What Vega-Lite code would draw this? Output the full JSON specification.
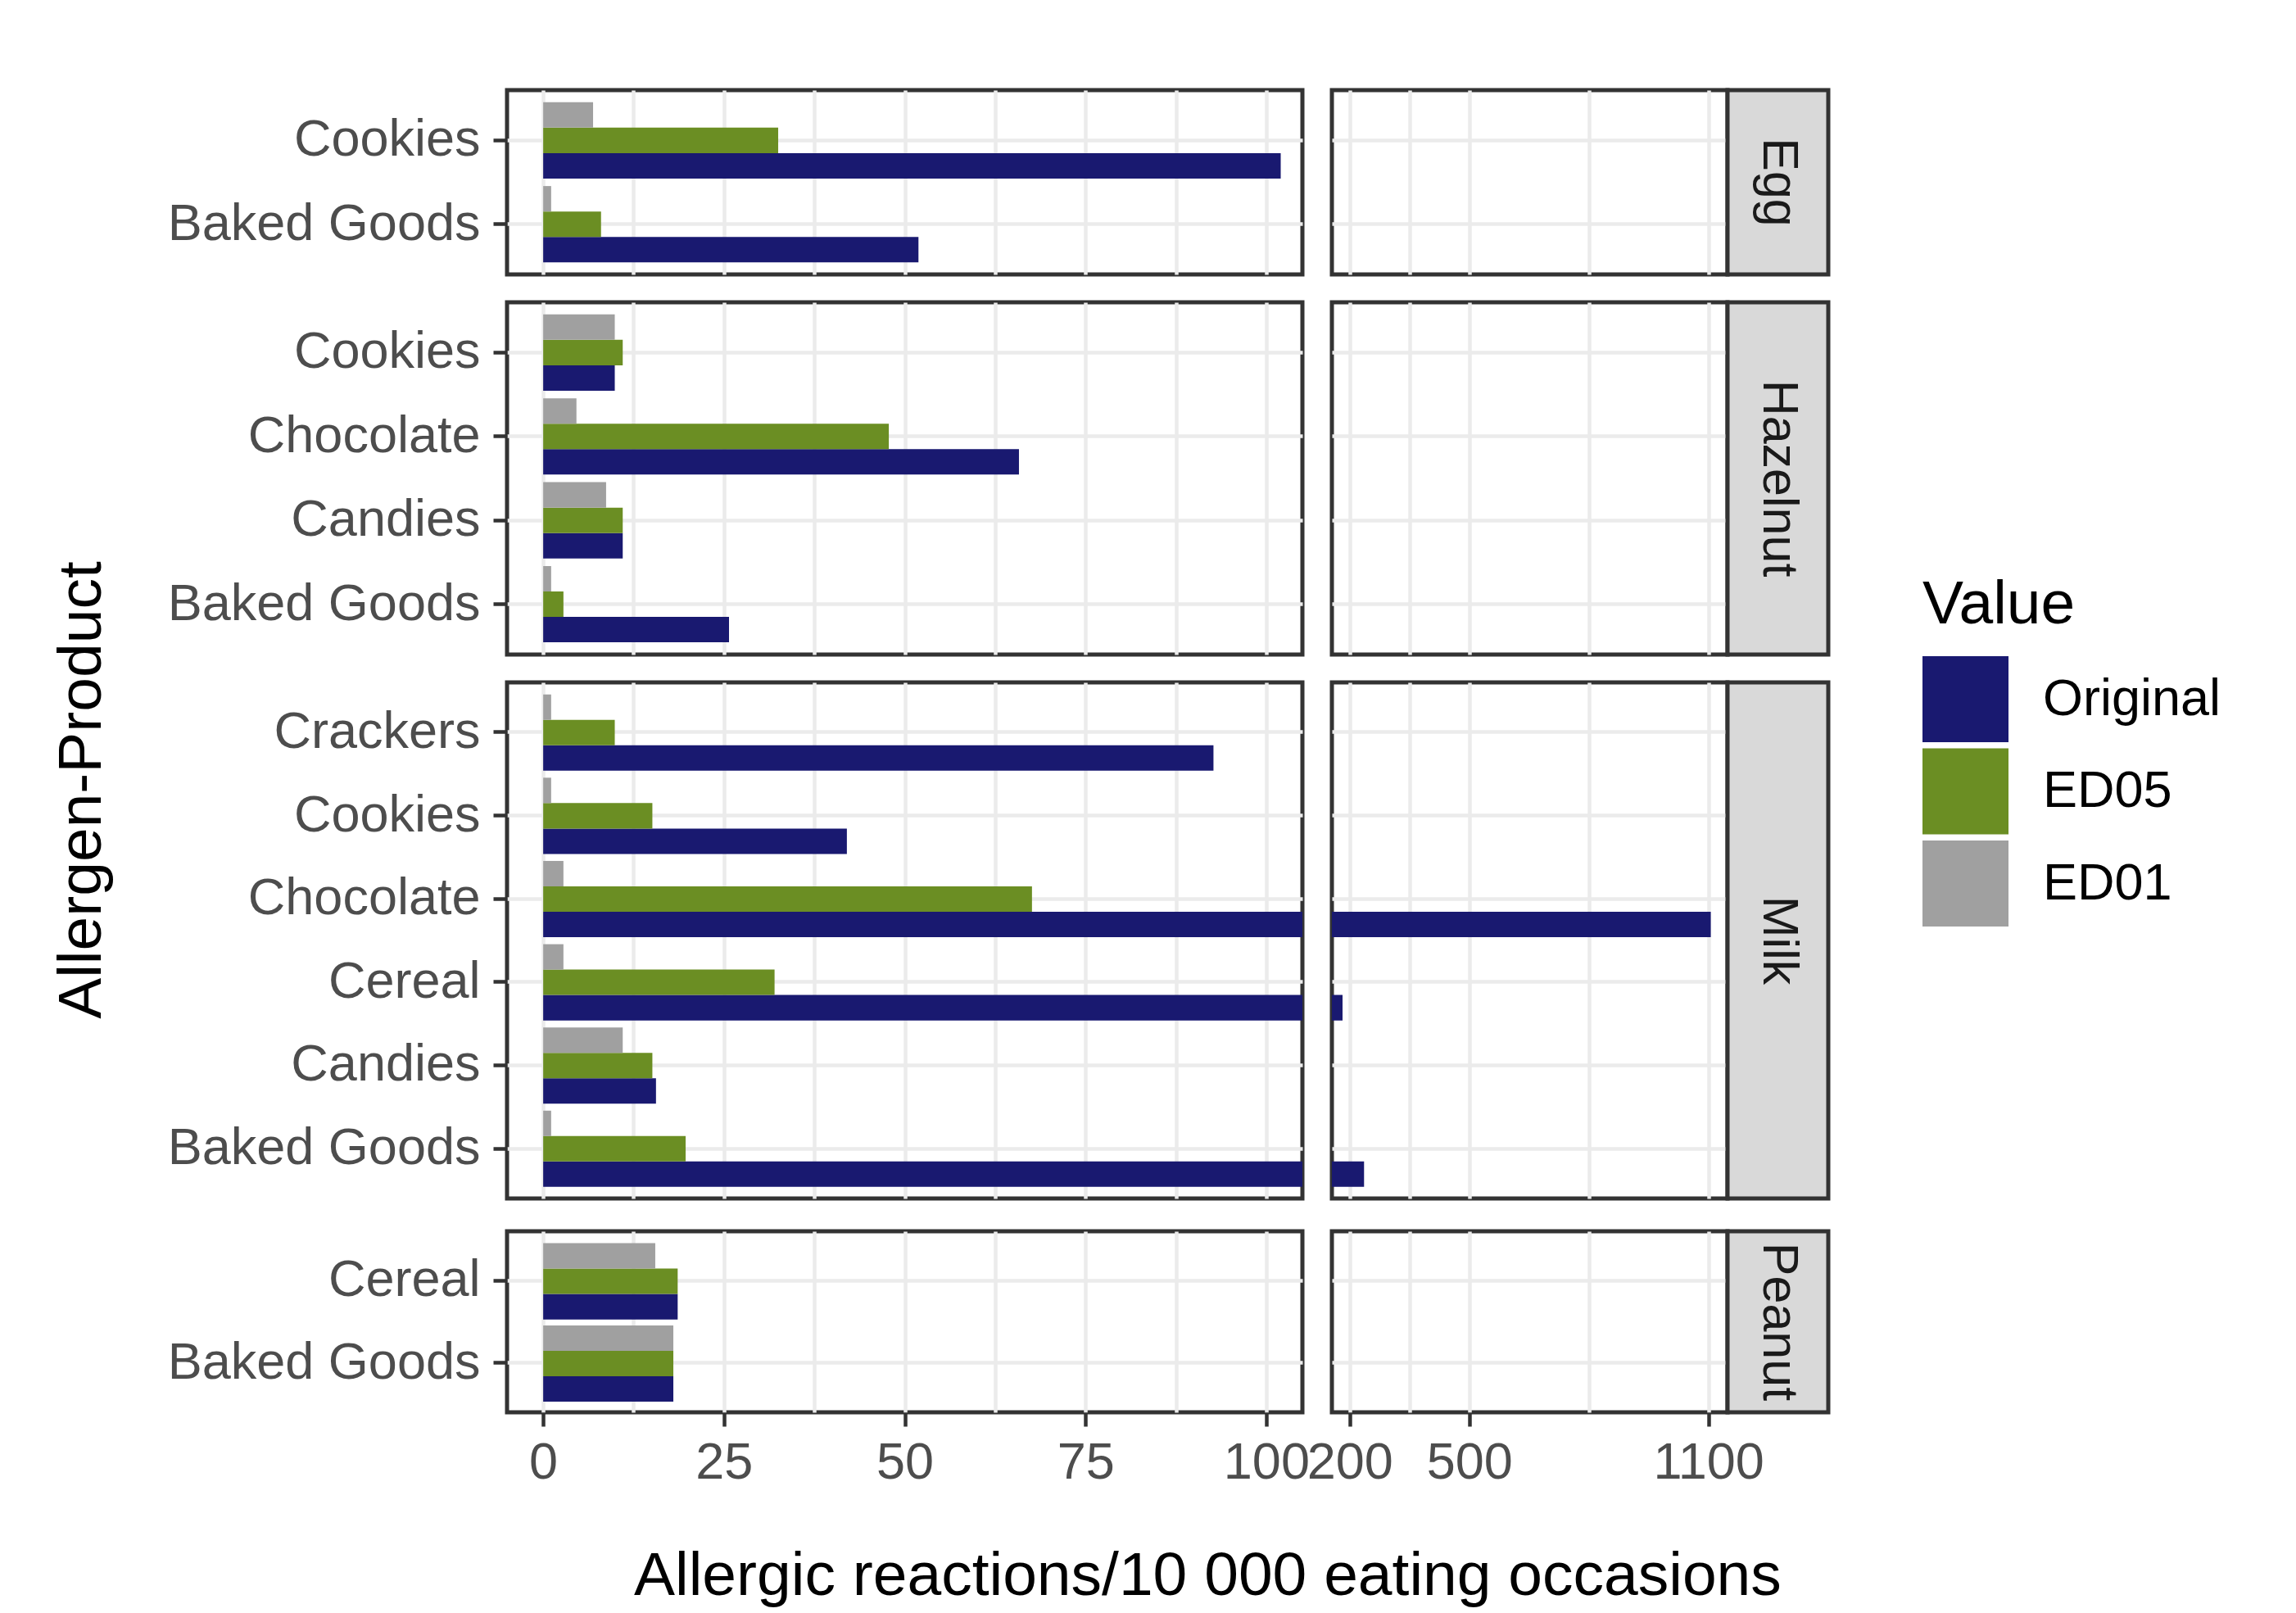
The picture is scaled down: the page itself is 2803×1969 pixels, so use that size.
{
  "$schema": "https://vega.github.io/schema/vega-lite/v6.json",
  "padding": {"left": 62, "top": 107, "right": 10, "bottom": 10},
  "title": {"text": "Allergen-Product", "orient": "left", "anchor": "middle", "frame": "bounds", "offset": 63, "dx": 70},
  "datasets": {
    "d": [
      {"Allergen":"Egg","Product":"Cookies","Value":"Original","Reactions":102},
      {"Allergen":"Egg","Product":"Cookies","Value":"ED05","Reactions":32.5},
      {"Allergen":"Egg","Product":"Cookies","Value":"ED01","Reactions":6.9},
      {"Allergen":"Egg","Product":"Baked Goods","Value":"Original","Reactions":51.9},
      {"Allergen":"Egg","Product":"Baked Goods","Value":"ED05","Reactions":8.0},
      {"Allergen":"Egg","Product":"Baked Goods","Value":"ED01","Reactions":1.1},
      {"Allergen":"Hazelnut","Product":"Cookies","Value":"Original","Reactions":9.9},
      {"Allergen":"Hazelnut","Product":"Cookies","Value":"ED05","Reactions":11.0},
      {"Allergen":"Hazelnut","Product":"Cookies","Value":"ED01","Reactions":9.9},
      {"Allergen":"Hazelnut","Product":"Chocolate","Value":"Original","Reactions":65.8},
      {"Allergen":"Hazelnut","Product":"Chocolate","Value":"ED05","Reactions":47.8},
      {"Allergen":"Hazelnut","Product":"Chocolate","Value":"ED01","Reactions":4.6},
      {"Allergen":"Hazelnut","Product":"Candies","Value":"Original","Reactions":11.0},
      {"Allergen":"Hazelnut","Product":"Candies","Value":"ED05","Reactions":11.0},
      {"Allergen":"Hazelnut","Product":"Candies","Value":"ED01","Reactions":8.7},
      {"Allergen":"Hazelnut","Product":"Baked Goods","Value":"Original","Reactions":25.7},
      {"Allergen":"Hazelnut","Product":"Baked Goods","Value":"ED05","Reactions":2.8},
      {"Allergen":"Hazelnut","Product":"Baked Goods","Value":"ED01","Reactions":1.1},
      {"Allergen":"Milk","Product":"Crackers","Value":"Original","Reactions":92.7},
      {"Allergen":"Milk","Product":"Crackers","Value":"ED05","Reactions":9.9},
      {"Allergen":"Milk","Product":"Crackers","Value":"ED01","Reactions":1.1},
      {"Allergen":"Milk","Product":"Cookies","Value":"Original","Reactions":42.0},
      {"Allergen":"Milk","Product":"Cookies","Value":"ED05","Reactions":15.1},
      {"Allergen":"Milk","Product":"Cookies","Value":"ED01","Reactions":1.1},
      {"Allergen":"Milk","Product":"Chocolate","Value":"Original","Reactions":1106},
      {"Allergen":"Milk","Product":"Chocolate","Value":"ED05","Reactions":67.6},
      {"Allergen":"Milk","Product":"Chocolate","Value":"ED01","Reactions":2.8},
      {"Allergen":"Milk","Product":"Cereal","Value":"Original","Reactions":182},
      {"Allergen":"Milk","Product":"Cereal","Value":"ED05","Reactions":32.0},
      {"Allergen":"Milk","Product":"Cereal","Value":"ED01","Reactions":2.8},
      {"Allergen":"Milk","Product":"Candies","Value":"Original","Reactions":15.6},
      {"Allergen":"Milk","Product":"Candies","Value":"ED05","Reactions":15.1},
      {"Allergen":"Milk","Product":"Candies","Value":"ED01","Reactions":11.0},
      {"Allergen":"Milk","Product":"Baked Goods","Value":"Original","Reactions":236},
      {"Allergen":"Milk","Product":"Baked Goods","Value":"ED05","Reactions":19.7},
      {"Allergen":"Milk","Product":"Baked Goods","Value":"ED01","Reactions":1.1},
      {"Allergen":"Peanut","Product":"Cereal","Value":"Original","Reactions":18.6},
      {"Allergen":"Peanut","Product":"Cereal","Value":"ED05","Reactions":18.6},
      {"Allergen":"Peanut","Product":"Cereal","Value":"ED01","Reactions":15.5},
      {"Allergen":"Peanut","Product":"Baked Goods","Value":"Original","Reactions":18.0},
      {"Allergen":"Peanut","Product":"Baked Goods","Value":"ED05","Reactions":18.0},
      {"Allergen":"Peanut","Product":"Baked Goods","Value":"ED01","Reactions":18.0}
    ]
  },
  "spacing": 34,
  "vconcat": [
    {
      "spacing": 28,
      "vconcat": [
        {
          "spacing": 36, "bounds": "flush",
          "hconcat": [
            {
              "width": 971, "height": 225,
              "data": {"name": "d"},
              "transform": [{"filter": "datum.Allergen === 'Egg'"}],
              "mark": {"type": "bar", "clip": true},
              "encoding": {
                "y": {"field": "Product", "type": "nominal", "sort": "descending", "scale": {"paddingInner": 0.09, "paddingOuter": 0.145}, "axis": {"title": null, "grid": true, "bandPosition": 0.5, "ticks": true, "labelPadding": 16, "labelLimit": 600}},
                "yOffset": {"field": "Value", "type": "nominal", "sort": ["ED01", "ED05", "Original"]},
                "x": {"field": "Reactions", "type": "quantitative", "scale": {"domain": [-5, 105], "nice": false, "zero": false}, "axis": {"values": [0, 12.5, 25, 37.5, 50, 62.5, 75, 87.5, 100], "labels": false, "ticks": false, "title": null, "grid": true}},
                "color": {"field": "Value", "type": "nominal", "scale": {"domain": ["Original", "ED05", "ED01"], "range": ["#191970", "#6B8E23", "#A0A0A0"]}, "legend": {"orient": "none", "legendX": 1728, "legendY": 592, "title": "Value"}}
              }
            },
            {
              "spacing": 0, "bounds": "flush",
              "hconcat": [
                {
                  "width": 483, "height": 225,
                  "data": {"name": "d"},
                  "transform": [{"filter": "datum.Allergen === 'Egg'"}],
                  "mark": {"type": "bar", "clip": true},
                  "encoding": {
                    "y": {"field": "Product", "type": "nominal", "sort": "descending", "scale": {"paddingInner": 0.09, "paddingOuter": 0.145}, "axis": {"title": null, "grid": true, "bandPosition": 0.5, "ticks": false, "labels": false}},
                    "yOffset": {"field": "Value", "type": "nominal", "sort": ["ED01", "ED05", "Original"]},
                    "x": {"field": "Reactions", "type": "quantitative", "scale": {"domain": [155.3, 1148], "nice": false, "zero": false}, "axis": {"values": [200, 350, 500, 800, 1100], "labels": false, "ticks": false, "title": null, "grid": true}},
                    "color": {"field": "Value", "type": "nominal", "scale": {"domain": ["Original", "ED05", "ED01"], "range": ["#191970", "#6B8E23", "#A0A0A0"]}, "legend": {"orient": "none", "legendX": 1728, "legendY": 592, "title": "Value"}}
                  }
                },
                {
                  "width": 123, "height": 225,
                  "data": {"values": [{"Allergen": "Egg"}]},
                  "view": {"fill": "#d9d9d9", "stroke": "#333333", "strokeWidth": 5},
                  "mark": {"type": "text", "angle": 90, "fontSize": 61, "color": "#1a1a1a", "align": "center", "baseline": "middle"},
                  "encoding": {"text": {"field": "Allergen", "type": "nominal"}}
                }
              ]
            }
          ]
        },
        {
          "spacing": 36, "bounds": "flush",
          "hconcat": [
            {
              "width": 971, "height": 430,
              "data": {"name": "d"},
              "transform": [{"filter": "datum.Allergen === 'Hazelnut'"}],
              "mark": {"type": "bar", "clip": true},
              "encoding": {
                "y": {"field": "Product", "type": "nominal", "sort": "descending", "scale": {"paddingInner": 0.09, "paddingOuter": 0.145}, "axis": {"title": null, "grid": true, "bandPosition": 0.5, "ticks": true, "labelPadding": 16, "labelLimit": 600}},
                "yOffset": {"field": "Value", "type": "nominal", "sort": ["ED01", "ED05", "Original"]},
                "x": {"field": "Reactions", "type": "quantitative", "scale": {"domain": [-5, 105], "nice": false, "zero": false}, "axis": {"values": [0, 12.5, 25, 37.5, 50, 62.5, 75, 87.5, 100], "labels": false, "ticks": false, "title": null, "grid": true}},
                "color": {"field": "Value", "type": "nominal", "scale": {"domain": ["Original", "ED05", "ED01"], "range": ["#191970", "#6B8E23", "#A0A0A0"]}, "legend": {"orient": "none", "legendX": 1728, "legendY": 592, "title": "Value"}}
              }
            },
            {
              "spacing": 0, "bounds": "flush",
              "hconcat": [
                {
                  "width": 483, "height": 430,
                  "data": {"name": "d"},
                  "transform": [{"filter": "datum.Allergen === 'Hazelnut'"}],
                  "mark": {"type": "bar", "clip": true},
                  "encoding": {
                    "y": {"field": "Product", "type": "nominal", "sort": "descending", "scale": {"paddingInner": 0.09, "paddingOuter": 0.145}, "axis": {"title": null, "grid": true, "bandPosition": 0.5, "ticks": false, "labels": false}},
                    "yOffset": {"field": "Value", "type": "nominal", "sort": ["ED01", "ED05", "Original"]},
                    "x": {"field": "Reactions", "type": "quantitative", "scale": {"domain": [155.3, 1148], "nice": false, "zero": false}, "axis": {"values": [200, 350, 500, 800, 1100], "labels": false, "ticks": false, "title": null, "grid": true}},
                    "color": {"field": "Value", "type": "nominal", "scale": {"domain": ["Original", "ED05", "ED01"], "range": ["#191970", "#6B8E23", "#A0A0A0"]}, "legend": {"orient": "none", "legendX": 1728, "legendY": 592, "title": "Value"}}
                  }
                },
                {
                  "width": 123, "height": 430,
                  "data": {"values": [{"Allergen": "Hazelnut"}]},
                  "view": {"fill": "#d9d9d9", "stroke": "#333333", "strokeWidth": 5},
                  "mark": {"type": "text", "angle": 90, "fontSize": 61, "color": "#1a1a1a", "align": "center", "baseline": "middle"},
                  "encoding": {"text": {"field": "Allergen", "type": "nominal"}}
                }
              ]
            }
          ]
        },
        {
          "spacing": 36, "bounds": "flush",
          "hconcat": [
            {
              "width": 971, "height": 630,
              "data": {"name": "d"},
              "transform": [{"filter": "datum.Allergen === 'Milk'"}],
              "mark": {"type": "bar", "clip": true},
              "encoding": {
                "y": {"field": "Product", "type": "nominal", "sort": "descending", "scale": {"paddingInner": 0.09, "paddingOuter": 0.145}, "axis": {"title": null, "grid": true, "bandPosition": 0.5, "ticks": true, "labelPadding": 16, "labelLimit": 600}},
                "yOffset": {"field": "Value", "type": "nominal", "sort": ["ED01", "ED05", "Original"]},
                "x": {"field": "Reactions", "type": "quantitative", "scale": {"domain": [-5, 105], "nice": false, "zero": false}, "axis": {"values": [0, 12.5, 25, 37.5, 50, 62.5, 75, 87.5, 100], "labels": false, "ticks": false, "title": null, "grid": true}},
                "color": {"field": "Value", "type": "nominal", "scale": {"domain": ["Original", "ED05", "ED01"], "range": ["#191970", "#6B8E23", "#A0A0A0"]}, "legend": {"orient": "none", "legendX": 1728, "legendY": 592, "title": "Value"}}
              }
            },
            {
              "spacing": 0, "bounds": "flush",
              "hconcat": [
                {
                  "width": 483, "height": 630,
                  "data": {"name": "d"},
                  "transform": [{"filter": "datum.Allergen === 'Milk'"}],
                  "mark": {"type": "bar", "clip": true},
                  "encoding": {
                    "y": {"field": "Product", "type": "nominal", "sort": "descending", "scale": {"paddingInner": 0.09, "paddingOuter": 0.145}, "axis": {"title": null, "grid": true, "bandPosition": 0.5, "ticks": false, "labels": false}},
                    "yOffset": {"field": "Value", "type": "nominal", "sort": ["ED01", "ED05", "Original"]},
                    "x": {"field": "Reactions", "type": "quantitative", "scale": {"domain": [155.3, 1148], "nice": false, "zero": false}, "axis": {"values": [200, 350, 500, 800, 1100], "labels": false, "ticks": false, "title": null, "grid": true}},
                    "color": {"field": "Value", "type": "nominal", "scale": {"domain": ["Original", "ED05", "ED01"], "range": ["#191970", "#6B8E23", "#A0A0A0"]}, "legend": {"orient": "none", "legendX": 1728, "legendY": 592, "title": "Value"}}
                  }
                },
                {
                  "width": 123, "height": 630,
                  "data": {"values": [{"Allergen": "Milk"}]},
                  "view": {"fill": "#d9d9d9", "stroke": "#333333", "strokeWidth": 5},
                  "mark": {"type": "text", "angle": 90, "fontSize": 61, "color": "#1a1a1a", "align": "center", "baseline": "middle"},
                  "encoding": {"text": {"field": "Allergen", "type": "nominal"}}
                }
              ]
            }
          ]
        }
      ]
    },
    {
      "spacing": 36, "bounds": "flush",
      "title": {"text": "Allergic reactions/10 000 eating occasions", "orient": "bottom", "anchor": "start", "frame": "group", "dx": 155, "offset": 68},
      "hconcat": [
        {
          "width": 971, "height": 221,
          "data": {"name": "d"},
          "transform": [{"filter": "datum.Allergen === 'Peanut'"}],
          "mark": {"type": "bar", "clip": true},
          "encoding": {
            "y": {"field": "Product", "type": "nominal", "sort": "descending", "scale": {"paddingInner": 0.09, "paddingOuter": 0.145}, "axis": {"title": null, "grid": true, "bandPosition": 0.5, "ticks": true, "labelPadding": 16, "labelLimit": 600}},
            "yOffset": {"field": "Value", "type": "nominal", "sort": ["ED01", "ED05", "Original"]},
            "x": {"field": "Reactions", "type": "quantitative", "scale": {"domain": [-5, 105], "nice": false, "zero": false}, "axis": {"values": [0, 12.5, 25, 37.5, 50, 62.5, 75, 87.5, 100], "labels": true, "ticks": true, "title": null, "grid": true, "labelExpr": "datum.value % 25 === 0 ? format(datum.value, 'd') : ''", "tickOpacity": {"condition": {"test": "datum.value % 25 !== 0", "value": 0}, "value": 1}, "labelPadding": 13, "labelFlush": false, "labelOverlap": false}},
            "color": {"field": "Value", "type": "nominal", "scale": {"domain": ["Original", "ED05", "ED01"], "range": ["#191970", "#6B8E23", "#A0A0A0"]}, "legend": {"orient": "none", "legendX": 1728, "legendY": 592, "title": "Value"}}
          }
        },
        {
          "spacing": 0, "bounds": "flush",
          "hconcat": [
            {
              "width": 483, "height": 221,
              "data": {"name": "d"},
              "transform": [{"filter": "datum.Allergen === 'Peanut'"}],
              "mark": {"type": "bar", "clip": true},
              "encoding": {
                "y": {"field": "Product", "type": "nominal", "sort": "descending", "scale": {"paddingInner": 0.09, "paddingOuter": 0.145}, "axis": {"title": null, "grid": true, "bandPosition": 0.5, "ticks": false, "labels": false}},
                "yOffset": {"field": "Value", "type": "nominal", "sort": ["ED01", "ED05", "Original"]},
                "x": {"field": "Reactions", "type": "quantitative", "scale": {"domain": [155.3, 1148], "nice": false, "zero": false}, "axis": {"values": [200, 350, 500, 800, 1100], "labels": true, "ticks": true, "title": null, "grid": true, "labelExpr": "indexof([200, 500, 1100], datum.value) >= 0 ? format(datum.value, 'd') : ''", "tickOpacity": {"condition": {"test": "indexof([200, 500, 1100], datum.value) < 0", "value": 0}, "value": 1}, "labelPadding": 13, "labelFlush": false, "labelOverlap": false}},
                "color": {"field": "Value", "type": "nominal", "scale": {"domain": ["Original", "ED05", "ED01"], "range": ["#191970", "#6B8E23", "#A0A0A0"]}, "legend": {"orient": "none", "legendX": 1728, "legendY": 592, "title": "Value"}}
              }
            },
            {
              "width": 123, "height": 221,
              "data": {"values": [{"Allergen": "Peanut"}]},
              "view": {"fill": "#d9d9d9", "stroke": "#333333", "strokeWidth": 5},
              "mark": {"type": "text", "angle": 90, "fontSize": 61, "color": "#1a1a1a", "align": "center", "baseline": "middle"},
              "encoding": {"text": {"field": "Allergen", "type": "nominal"}}
            }
          ]
        }
      ]
    }
  ],
  "config": {
    "font": "Liberation Sans",
    "background": "white",
    "view": {"stroke": "#333333", "strokeWidth": 5},
    "axis": {"domain": false, "gridColor": "#ebebeb", "gridWidth": 4.5, "tickColor": "#333333", "tickWidth": 4.5, "tickSize": 17, "labelFont": "Liberation Sans", "labelFontSize": 63, "labelColor": "#4d4d4d", "labelLimit": 600, "titleFont": "Liberation Sans", "titleFontSize": 75, "titleColor": "#000000", "titleFontWeight": "normal"},
    "legend": {"titleFont": "Liberation Sans", "titleFontSize": 75, "titleFontWeight": "normal", "titleColor": "#000000", "titleLimit": 600, "labelFont": "Liberation Sans", "labelFontSize": 63, "labelColor": "#000000", "labelLimit": 600, "symbolType": "square", "symbolSize": 11025, "symbolStrokeWidth": 0, "symbolOpacity": 1, "labelOffset": 42, "rowPadding": 7.5, "titlePadding": 24},
    "title": {"font": "Liberation Sans", "fontSize": 75, "fontWeight": "normal", "color": "#000000"}
  }
}
